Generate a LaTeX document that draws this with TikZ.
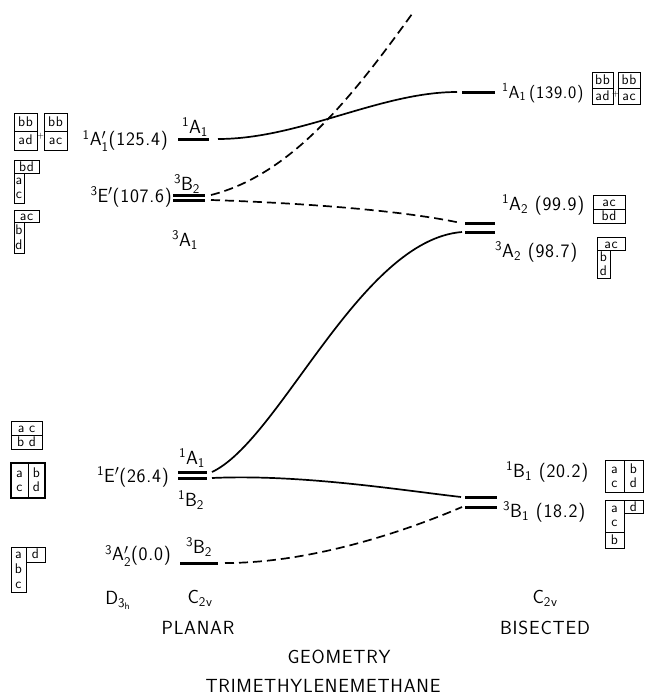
\documentclass[tikz,border=0pt]{standalone}
\usepackage{amsmath}
\usepackage{fontspec}
\setsansfont{Latin Modern Sans}[LetterSpace=4]
\usepackage{tikz}
\tikzset{
	level/.style={line width=3pt},
	corr/.style={line width=1.7pt},
	corrd/.style={corr,dash pattern=on 9pt off 5pt},
	lab/.style={font=\sffamily\fontsize{19}{22}\selectfont,inner sep=0pt},
	tab/.style={font=\sffamily\fontsize{14}{14}\selectfont,inner sep=0pt,text height=9.5pt,text depth=0pt},
	tabbox/.style={line width=1pt},
	tabthick/.style={line width=2.6pt}
}
\newcommand{\st}[3]{$^{\text{#1}}$#2$_{\text{#3}}$}

\begin{document}
\begin{tikzpicture}[x=1pt,y=-1pt]
	\useasboundingbox (0,0) rectangle (647,699);
	
	% levels, planar
	\coordinate (pA1w) at (178,139); \coordinate (pA1e) at (209,139);
	\coordinate (pT1w) at (173,195); \coordinate (pT1e) at (205,195);
	\coordinate (pT2w) at (173,200); \coordinate (pT2e) at (205,200);
	\coordinate (pS1w) at (178,472); \coordinate (pS1e) at (207,472);
	\coordinate (pS2w) at (178,478); \coordinate (pS2e) at (207,478);
	\coordinate (pGw) at (180,563); \coordinate (pGe) at (218,563);
	% levels, bisected
	\coordinate (bA1w) at (462,92); \coordinate (bA1e) at (495,92);
	\coordinate (bA2sw) at (465,223); \coordinate (bA2se) at (495,223);
	\coordinate (bA2tw) at (465,232); \coordinate (bA2te) at (495,232);
	\coordinate (bB1sw) at (465,497); \coordinate (bB1se) at (497,497);
	\coordinate (bB1tw) at (465,507); \coordinate (bB1te) at (497,507);
	\coordinate (top) at (412,14);
	
	\foreach \a in {pA1,pT1,pT2,pS1,pS2,pG,bA1,bA2s,bA2t,bB1s,bB1t}
		\draw[level] (\a w) -- (\a e);
	
	\draw[corr] ([xshift=9pt]pA1e) .. controls (300,139) and (380,92) .. ([xshift=-5pt]bA1w);
	\draw[corrd] ([xshift=6pt]pT1e) .. controls (290,175) and (350,100) .. (top);
	\draw[corrd] ([xshift=6pt]pT2e) .. controls (300,203) and (400,210) .. ([xshift=-4pt]bA2sw);
	\draw[corr] ([xshift=5pt]pS1e) .. controls (280,440) and (360,240) .. ([xshift=-3pt]bA2tw);
	\draw[corr] ([xshift=5pt]pS2e) .. controls (300,474) and (400,490) .. ([xshift=-4pt]bB1sw);
	\draw[corrd] ([xshift=7pt]pGe) .. controls (320,563) and (420,525) .. ([xshift=-3pt]bB1tw);
	
	% state labels
	\node[lab,anchor=east] (nA1) at (168,141) {$^{\text{1}}$A$'_{\text{1}}$(125.4)};
	\node[lab,anchor=east] (nT) at (172,197) {$^{\text{3}}$E$'$(107.6)};
	\node[lab,anchor=east] (nS) at (169,477) {$^{\text{1}}$E$'$(26.4)};
	\node[lab,anchor=east] (nG) at (171,556) {$^{\text{3}}$A$'_{\text{2}}$(0.0)};
	\node[lab] (sA1) at (195,127) {\st{1}{A}{1}};
	\node[lab] (sB2) at (187,184) {\st{3}{B}{2}};
	\node[lab] (sA1t) at (185,240) {\st{3}{A}{1}};
	\node[lab] (sA1s) at (192,458) {\st{1}{A}{1}};
	\node[lab] (sB2s) at (191,500) {\st{1}{B}{2}};
	\node[lab] (sB2t) at (199,547) {\st{3}{B}{2}};
	\node[lab,anchor=west,font=\sffamily\fontsize{17.5}{20}\selectfont] (nbA1) at (502,93) {\st{1}{A}{1}\,(139.0)};
	\node[lab,anchor=west] (nbA2s) at (502,205) {\st{1}{A}{2} (99.9)};
	\node[lab,anchor=west] (nbA2t) at (495,252) {\st{3}{A}{2} (98.7)};
	\node[lab,anchor=west] (nbB1s) at (506,472) {\st{1}{B}{1} (20.2)};
	\node[lab,anchor=west] (nbB1t) at (503,512) {\st{3}{B}{1} (18.2)};
	
	% axis labels
	\node[lab] (gD) at (118,600) {D$_{\text{3}_{\text{h}}}$};
	\node[lab] (gP) at (200,598) {C$_{\text{2v}}$};
	\node[lab] (gPn) at (198,628) {PLANAR};
	\node[lab] (gB) at (545,598) {C$_{\text{2v}}$};
	\node[lab] (gBn) at (545,628) {BISECTED};
	\node[lab] (geo) at (339,657) {GEOMETRY};
	\node[lab] (tmm) at (323,686) {TRIMETHYLENEMETHANE};
	
	% tableaux, left
	\draw[tabbox] (14,113) rectangle (37,150) (14,131) -- (37,131);
	\node[tab] (tl1a) at (25.5,122) {bb};
	\node[tab] (tl1b) at (25.5,140) {ad};
	\node[tab] (tl1p) at (40.5,134) {\fontsize{9}{9}\selectfont+};
	\draw[tabbox] (44,113) rectangle (67,150) (44,131) -- (67,131);
	\node[tab] (tl1c) at (55.5,122) {bb};
	\node[tab] (tl1d) at (55.5,140) {ac};
	
	\draw[tabbox] (14,160) rectangle (39,173) (14,173) rectangle (24,203);
	\node[tab] (tl2a) at (26.5,166.5) {bd};
	\node[tab] (tl2b) at (19,180) {a};
	\node[tab] (tl2c) at (19,194) {c};
	
	\draw[tabbox] (14,210) rectangle (39,222) (14,222) rectangle (24,253);
	\node[tab] (tl3a) at (26.5,215.5) {ac};
	\node[tab] (tl3b) at (19,229.5) {b};
	\node[tab] (tl3c) at (19,244.5) {d};
	
	\draw[tabbox] (11,421) rectangle (42,449) (11,435) -- (42,435);
	\node[tab] (tl4a) at (26.5,427.5) {a\,\,c};
	\node[tab] (tl4b) at (26.5,442) {b\,\,d};
	
	\draw[tabthick] (11,463) rectangle (45,498);
	\draw[tabbox] (28,463) -- (28,498);
	\node[tab] (tl5a) at (19.5,473) {a};
	\node[tab] (tl5b) at (19.5,487) {c};
	\node[tab] (tl5c) at (36.5,473) {b};
	\node[tab] (tl5d) at (36.5,487) {d};
	
	\draw[tabbox] (11,547) rectangle (26,592) (26,547) rectangle (45,562);
	\node[tab] (tl6a) at (18.5,554) {a};
	\node[tab] (tl6b) at (18.5,569) {b};
	\node[tab] (tl6c) at (18.5,584) {c};
	\node[tab] (tl6d) at (35.5,554) {d};
	
	% tableaux, right
	\draw[tabbox] (592,72) rectangle (613,104) (592,88) -- (613,88);
	\node[tab] (tr1a) at (602.5,80) {bb};
	\node[tab] (tr1b) at (602.5,96) {ad};
	\node[tab] (tr1p) at (615.5,92) {\fontsize{9}{9}\selectfont+};
	\draw[tabbox] (618,72) rectangle (640,104) (618,88) -- (640,88);
	\node[tab] (tr1c) at (629,80) {bb};
	\node[tab] (tr1d) at (629,96) {ac};
	
	\draw[tabbox] (593,195) rectangle (625,223) (593,209) -- (625,209);
	\node[tab] (tr2a) at (609,202) {ac};
	\node[tab] (tr2b) at (609,216) {bd};
	
	\draw[tabbox] (597,237) rectangle (625,250) (597,250) rectangle (610,278);
	\node[tab] (tr3a) at (611,243.5) {ac};
	\node[tab] (tr3b) at (603.5,257) {b};
	\node[tab] (tr3c) at (603.5,271) {d};
	
	\draw[tabbox] (605,460) rectangle (643,492) (624,460) -- (624,492);
	\node[tab] (tr4a) at (614.5,469) {a};
	\node[tab] (tr4b) at (614.5,483) {c};
	\node[tab] (tr4c) at (633.5,469) {b};
	\node[tab] (tr4d) at (633.5,483) {d};
	
	\draw[tabbox] (605,500) rectangle (624,532) (624,500) rectangle (643,513) (605,532) rectangle (624,548);
	\node[tab] (tr5a) at (614.5,508) {a};
	\node[tab] (tr5b) at (614.5,522) {c};
	\node[tab] (tr5c) at (633.5,506.5) {d};
	\node[tab] (tr5d) at (614.5,540) {b};
\end{tikzpicture}
\end{document}
